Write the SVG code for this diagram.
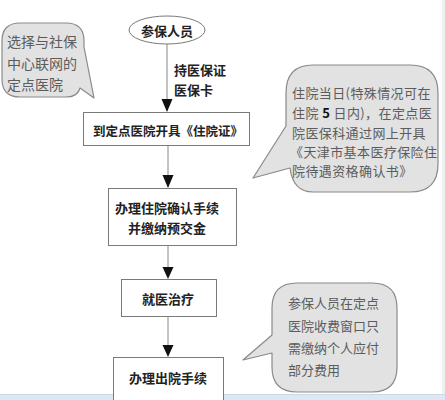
<svg xmlns="http://www.w3.org/2000/svg" width="445" height="400" viewBox="0 0 445 400">
<style>
  .box{fill:#fff;stroke:#7a7a7a;stroke-width:1}
  .bub{fill:#e2e2e2;stroke:#8a8a8a;stroke-width:1.2;stroke-linejoin:round}
  .bt{font-family:"Noto Sans CJK SC","Noto Sans",sans-serif;font-size:13px;font-weight:bold;fill:#222;text-anchor:middle;dominant-baseline:central}
  .ct{font-family:"Noto Sans CJK SC","Noto Sans",sans-serif;font-size:13px;fill:#5c5c5c;dominant-baseline:central}
  .ln{stroke:#888;stroke-width:1;fill:none}
  .ah{fill:#111}
</style>
<rect x="0" y="0" width="445" height="400" fill="#fff"/>
<rect x="442" y="0" width="3" height="394" fill="#f0f0f0"/>
<rect x="0" y="394" width="445" height="6" fill="#dde8f3"/>
<line x1="0" y1="394.5" x2="445" y2="394.5" stroke="#c9d9ea" stroke-width="1"/>

<g id="connectors">
  <path class="ln" d="M167,44 V100"/>
  <path class="ln" d="M168,145 V176"/>
  <path class="ln" d="M168,246 V267"/>
  <path class="ln" d="M168,317 V345"/>
  <path class="ah" d="M161.5,99 L172.5,99 L167,112 Z"/>
  <path class="ah" d="M162.5,175 L173.5,175 L168,188 Z"/>
  <path class="ah" d="M162.5,267 L173.5,267 L168,279 Z"/>
  <path class="ah" d="M162.5,345 L173.5,345 L168,357 Z"/>
  <text class="bt" x="174" y="69" style="text-anchor:start">持医保证</text>
  <text class="bt" x="174" y="89" style="text-anchor:start">医保卡</text>
</g>

<g id="start">
  <ellipse cx="167" cy="30" rx="38" ry="14" fill="#fff" stroke="#7a7a7a" stroke-width="1"/>
  <text class="bt" x="167" y="30">参保人员</text>
</g>

<g id="box1">
  <rect class="box" x="83.5" y="112.5" width="166" height="33"/>
  <text class="bt" x="168" y="130" style="font-size:12.5px">到定点医院开具《住院证》</text>
</g>

<g id="box2">
  <rect class="box" x="108.5" y="188.5" width="128" height="57"/>
  <text class="bt" x="167" y="207">办理住院确认手续</text>
  <text class="bt" x="167" y="227">并缴纳预交金</text>
</g>

<g id="box3">
  <rect class="box" x="121.5" y="279.5" width="95" height="37"/>
  <text class="bt" x="168" y="298">就医治疗</text>
</g>

<g id="box4">
  <rect class="box" x="113.5" y="357.5" width="110" height="45"/>
  <text class="bt" x="168" y="377">办理出院手续</text>
</g>

<g id="note1">
  <path class="bub" d="M20,23 H66 Q84,23 84,41 V47 L94,98 L80,88 Q78,97 66,97 H20 Q2,97 2,79 V41 Q2,23 20,23 Z"/>
  <text class="ct" x="7" y="41" style="font-size:14px">选择与社保</text>
  <text class="ct" x="7" y="63" style="font-size:14px">中心联网的</text>
  <text class="ct" x="7" y="84" style="font-size:14px">定点医院</text>
</g>

<g id="note2">
  <path class="bub" d="M313,65 H410 Q438,65 438,93 V164 Q438,192 410,192 H313 Q293,192 290,168 L253,178 L286,126 V93 Q286,65 313,65 Z"/>
  <text class="ct" x="292" y="92" style="letter-spacing:0.4px">住院当日(特殊情况可在</text>
  <text class="ct" x="292" y="112" style="letter-spacing:0.4px">住院 <tspan font-weight="bold" fill="#111">5</tspan> 日内)，在定点医</text>
  <text class="ct" x="292" y="132" style="letter-spacing:0.4px">院医保科通过网上开具</text>
  <text class="ct" x="290" y="151" style="letter-spacing:0.4px">《天津市基本医疗保险住</text>
  <text class="ct" x="292" y="170" style="letter-spacing:0.4px">院待遇资格确认书》</text>
</g>

<g id="note3">
  <path class="bub" d="M297,283 H372 Q397,283 397,308 V367 Q397,392 372,392 H297 Q272,392 272,367 V353 L243,360 L272,335 V308 Q272,283 297,283 Z"/>
  <text class="ct" x="288" y="302">参保人员在定点</text>
  <text class="ct" x="288" y="325">医院收费窗口只</text>
  <text class="ct" x="288" y="347">需缴纳个人应付</text>
  <text class="ct" x="288" y="369">部分费用</text>
</g>
</svg>
